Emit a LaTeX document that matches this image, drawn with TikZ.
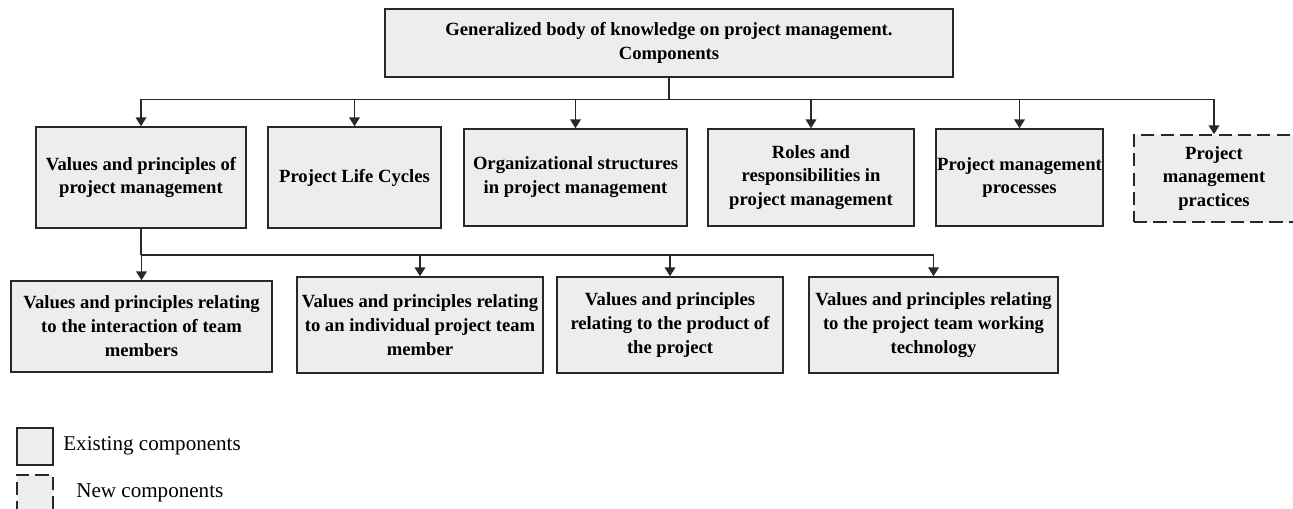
\documentclass[tikz,border=0pt]{standalone}
\usepackage{fontspec}
\setmainfont{Liberation Serif}
\usetikzlibrary{arrows.meta}

\definecolor{boxgray}{RGB}{237,237,237}
\definecolor{edge}{RGB}{40,40,40}

\tikzset{
  comp/.style={draw=edge, fill=boxgray, line width=0.85pt, align=center,
    inner sep=0pt, font=\fontsize{10.6}{13.6}\selectfont\bfseries},
  newcomp/.style={comp, dash pattern=on 7.5pt off 3.5pt},
  link/.style={draw=edge, line width=0.85pt},
  feed/.style={link, -{Triangle[length=5pt,width=6pt]}},
  legtext/.style={anchor=west, inner sep=0pt, font=\fontsize{12}{14}\selectfont},
}

\begin{document}
\begin{tikzpicture}[x=0.02cm, y=-0.02cm]
  \useasboundingbox (0,0) rectangle (1293,509);

  %% top of the tree
  \node[comp, minimum width=11.36cm, minimum height=1.36cm] (body) at (669,43)
    {Generalized body of knowledge on project management.\\Components};

  %% first level
  \node[comp, minimum width=4.2cm, minimum height=2.02cm] (values) at (141,177.5)
    {Values and principles of\\project management};
  \node[comp, minimum width=3.46cm, minimum height=2.02cm] (cycles) at (354.5,177.5)
    {Project Life Cycles};
  \node[comp, minimum width=4.46cm, minimum height=1.94cm] (struct) at (575.5,177.5)
    {Organizational structures\\in project management};
  \node[comp, minimum width=4.12cm, minimum height=1.94cm] (roles) at (811,177.5)
    {Roles and\\responsibilities in\\project management};
  \node[comp, minimum width=3.34cm, minimum height=1.94cm] (procs) at (1019.5,177.5)
    {Project management\\processes};
  \node[newcomp, minimum width=3.2cm, minimum height=1.74cm] (practs) at (1214,178.5)
    {Project\\management\\practices};

  %% second level, under the values box
  \node[comp, minimum width=5.22cm, minimum height=1.82cm] (team) at (141.5,326.5)
    {Values and principles relating\\to the interaction of team\\members};
  \node[comp, minimum width=4.92cm, minimum height=1.92cm] (member) at (420,325)
    {Values and principles relating\\to an individual project team\\member};
  \node[comp, minimum width=4.52cm, minimum height=1.92cm] (product) at (670,325)
    {Values and principles\\relating to the product of\\the project};
  \node[comp, minimum width=4.98cm, minimum height=1.92cm] (tech) at (933.5,325)
    {Values and principles relating\\to the project team working\\technology};

  %% connectors
  \coordinate (bus1) at (669,99.5);
  \coordinate (bus2) at (141,255);
  \draw[link] (body) -- (bus1);
  \draw[link] (values.north |- bus1) -- (practs.north |- bus1);
  \foreach \n in {values,cycles,struct,roles,procs,practs}
    \draw[feed] (\n.north |- bus1) -- (\n.north);
  \draw[link] (values) -- (bus2);
  \draw[link] (bus2) -- (tech.north |- bus2);
  \foreach \n in {team,member,product,tech}
    \draw[feed] (\n.north |- bus2) -- (\n.north);

  %% legend
  \node[comp, minimum width=0.72cm, minimum height=0.74cm] (oldkey) at (35,446.5) {};
  \node[legtext] (oldlab) at (63,446) {Existing components};
  \node[newcomp, minimum width=0.72cm, minimum height=0.74cm] (newkey) at (35,493.5) {};
  \node[legtext] (newlab) at (76,493) {New components};
\end{tikzpicture}
\end{document}
